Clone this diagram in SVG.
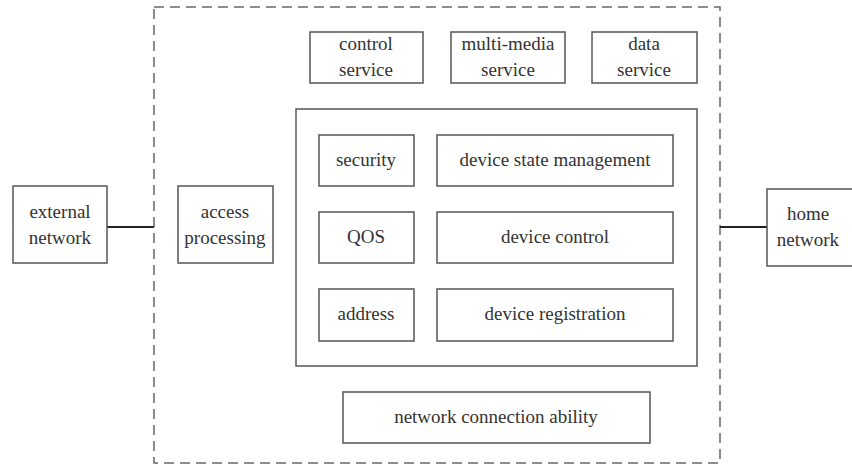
<svg xmlns="http://www.w3.org/2000/svg" width="852" height="470" viewBox="0 0 852 470">
  <rect width="852" height="470" fill="#ffffff"/>

  <!-- gateway boundary -->
  <rect id="gateway" x="154" y="7" width="566" height="456" fill="none" stroke="#666666" stroke-width="1.5" stroke-dasharray="10 6"/>

  <!-- connectors -->
  <g id="connectors" stroke="#222222" stroke-width="2">
    <line x1="107" y1="227" x2="154" y2="227"/>
    <line x1="720" y1="227" x2="767" y2="227"/>
  </g>

  <!-- nodes: shared box outline and label look set on the wrapper -->
  <g fill="#ffffff" stroke="#555555" stroke-width="1.5">
    <rect id="external-network-box" x="13" y="186" width="94" height="77"/>
    <rect id="home-network-box" x="767" y="189" width="92" height="77"/>
    <rect id="access-processing-box" x="178" y="186" width="95" height="77"/>
    <rect id="control-service-box" x="310" y="32" width="113" height="51"/>
    <rect id="multi-media-service-box" x="451" y="32" width="114" height="51"/>
    <rect id="data-service-box" x="592" y="32" width="105" height="51"/>
    <rect id="core-box" x="296" y="109" width="401" height="257"/>
    <rect id="security-box" x="319" y="135" width="95" height="51"/>
    <rect id="device-state-management-box" x="437" y="135" width="236" height="51"/>
    <rect id="qos-box" x="319" y="212" width="95" height="51"/>
    <rect id="device-control-box" x="437" y="212" width="236" height="51"/>
    <rect id="address-box" x="319" y="289" width="95" height="52"/>
    <rect id="device-registration-box" x="437" y="289" width="236" height="52"/>
    <rect id="network-connection-ability-box" x="343" y="392" width="307" height="51"/>
  </g>

  <g fill="#333333" text-anchor="middle">
    <g id="external-network">
      <text x="60" y="218" font-family="Liberation Serif" font-size="19">external</text>
      <text x="60" y="244" font-family="Liberation Serif" font-size="19">network</text>
    </g>
    <g id="home-network">
      <text x="808" y="220" font-family="Liberation Serif" font-size="19">home</text>
      <text x="808" y="246" font-family="Liberation Serif" font-size="19">network</text>
    </g>
    <g id="access-processing">
      <text x="225" y="218" font-family="Liberation Serif" font-size="19">access</text>
      <text x="225" y="244" font-family="Liberation Serif" font-size="19">processing</text>
    </g>
    <g id="control-service">
      <text x="366" y="50" font-family="Liberation Serif" font-size="19">control</text>
      <text x="366" y="76" font-family="Liberation Serif" font-size="19">service</text>
    </g>
    <g id="multi-media-service">
      <text x="508" y="50" font-family="Liberation Serif" font-size="19">multi-media</text>
      <text x="508" y="76" font-family="Liberation Serif" font-size="19">service</text>
    </g>
    <g id="data-service">
      <text x="644" y="50" font-family="Liberation Serif" font-size="19">data</text>
      <text x="644" y="76" font-family="Liberation Serif" font-size="19">service</text>
    </g>
    <g id="security">
      <text x="366" y="166" font-family="Liberation Serif" font-size="19">security</text>
    </g>
    <g id="device-state-management">
      <text x="555" y="166" font-family="Liberation Serif" font-size="19">device state management</text>
    </g>
    <g id="qos">
      <text x="366" y="243" font-family="Liberation Serif" font-size="19">QOS</text>
    </g>
    <g id="device-control">
      <text x="555" y="243" font-family="Liberation Serif" font-size="19">device control</text>
    </g>
    <g id="address">
      <text x="366" y="320" font-family="Liberation Serif" font-size="19">address</text>
    </g>
    <g id="device-registration">
      <text x="555" y="320" font-family="Liberation Serif" font-size="19">device registration</text>
    </g>
    <g id="network-connection-ability">
      <text x="496" y="423" font-family="Liberation Serif" font-size="19">network connection ability</text>
    </g>
  </g>
</svg>
